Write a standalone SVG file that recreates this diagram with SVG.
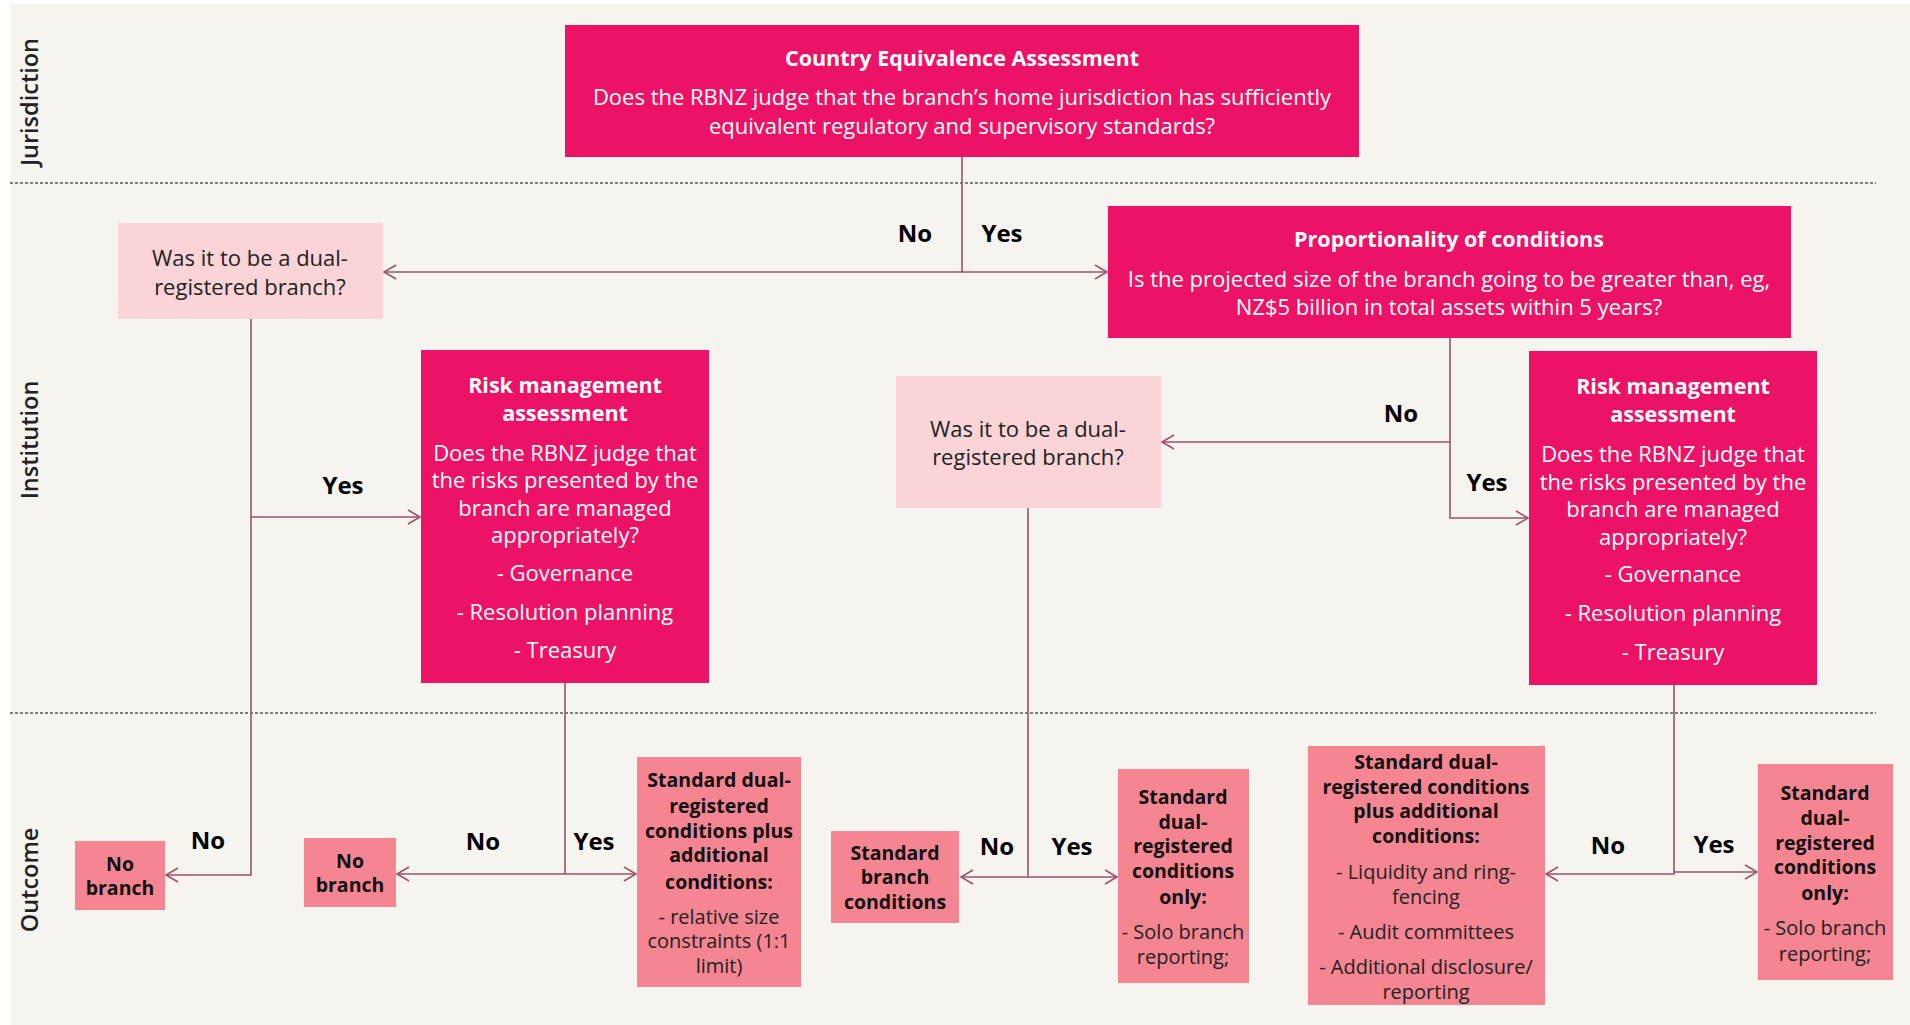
<svg xmlns="http://www.w3.org/2000/svg" width="1910" height="1025" viewBox="0 0 1910 1025">
<style>
text{font-family:"Open Sans","Noto Sans","DejaVu Sans",sans-serif;text-anchor:middle}
.mag{fill:#EC1265}
.pale{fill:#FAD4D6}
.sal{fill:#F48591}
.tw{fill:#ffffff;font-size:22px}
.twb{fill:#ffffff;font-size:21.5px;font-weight:700}
.td{fill:#222222;font-size:22px}
.ob{fill:#111111;font-size:19.5px;font-weight:700}
.or{fill:#222222;font-size:20px}
.lbl{fill:#000000;font-size:24px;font-weight:700}
.lane{fill:#222222;font-size:23.5px;font-weight:600}
.dash{stroke:#555555;stroke-width:1.5;stroke-dasharray:3 2;fill:none}
.arr{stroke:#A0506F;stroke-width:1.6;fill:none;marker-end:url(#ah)}
</style>
<defs>
<marker id="ah" markerUnits="userSpaceOnUse" markerWidth="16" markerHeight="18" refX="13" refY="8" orient="auto">
<path d="M1,1 L13,8 L1,15" fill="none" stroke="#A0506F" stroke-width="1.6"/>
</marker>
</defs>
<rect x="0" y="0" width="1910" height="1025" fill="#ffffff"/>
<rect x="10" y="4" width="1900" height="1021" fill="#F5F4EE"/>

<g id="lanes">
<line class="dash" x1="10" y1="183" x2="1876" y2="183"/>
<line class="dash" x1="10" y1="713" x2="1876" y2="713"/>
<text class="lane" transform="translate(38,102) rotate(-90)">Jurisdiction</text>
<text class="lane" transform="translate(38,440) rotate(-90)">Institution</text>
<text class="lane" transform="translate(38,880) rotate(-90)">Outcome</text>
</g>

<g id="connectors">
<path class="arr" d="M962,157 V272 H384"/>
<path class="arr" d="M962,272 H1107"/>
<path class="arr" d="M251,319 V875 H166"/>
<path class="arr" d="M251,517 H420"/>
<path class="arr" d="M565,683 V874 H397"/>
<path class="arr" d="M565,874 H636"/>
<path class="arr" d="M1450,338 V442 H1162"/>
<path class="arr" d="M1450,442 V518 H1528"/>
<path class="arr" d="M1028,508 V877 H961"/>
<path class="arr" d="M1028,877 H1117"/>
<path class="arr" d="M1674,685 V874 H1546"/>
<path class="arr" d="M1674,872 H1757"/>
<text class="lbl" x="915" y="242">No</text>
<text class="lbl" x="1002" y="242">Yes</text>
<text class="lbl" x="343" y="494">Yes</text>
<text class="lbl" x="208" y="849">No</text>
<text class="lbl" x="483" y="850">No</text>
<text class="lbl" x="594" y="850">Yes</text>
<text class="lbl" x="1401" y="422">No</text>
<text class="lbl" x="1487" y="491">Yes</text>
<text class="lbl" x="997" y="855">No</text>
<text class="lbl" x="1072" y="855">Yes</text>
<text class="lbl" x="1608" y="854">No</text>
<text class="lbl" x="1714" y="853">Yes</text>
</g>

<g id="country">
<rect class="mag" x="565" y="25" width="794" height="132"/>
<text class="twb" x="962" y="66">Country Equivalence Assessment</text>
<text class="tw" x="962" y="105">Does the RBNZ judge that the branch’s home jurisdiction has sufficiently</text>
<text class="tw" x="962" y="134">equivalent regulatory and supervisory standards?</text>
</g>

<g id="dual1">
<rect class="pale" x="118" y="223" width="265" height="96"/>
<text class="td" x="250" y="266">Was it to be a dual-</text>
<text class="td" x="250" y="295">registered branch?</text>
</g>

<g id="proportionality">
<rect class="mag" x="1108" y="206" width="683" height="132"/>
<text class="twb" x="1449" y="247">Proportionality of conditions</text>
<text class="tw" x="1449" y="287">Is the projected size of the branch going to be greater than, eg,</text>
<text class="tw" x="1449" y="315">NZ$5 billion in total assets within 5 years?</text>
</g>

<g id="risk1">
<rect class="mag" x="421" y="350" width="288" height="333"/>
<text class="twb" x="565" y="393">Risk management</text>
<text class="twb" x="565" y="421">assessment</text>
<text class="tw" x="565" y="461">Does the RBNZ judge that</text>
<text class="tw" x="565" y="488">the risks presented by the</text>
<text class="tw" x="565" y="516">branch are managed</text>
<text class="tw" x="565" y="543">appropriately?</text>
<text class="tw" x="565" y="581">- Governance</text>
<text class="tw" x="565" y="620">- Resolution planning</text>
<text class="tw" x="565" y="658">- Treasury</text>
</g>

<g id="dual2">
<rect class="pale" x="896" y="376" width="265" height="132"/>
<text class="td" x="1028" y="437">Was it to be a dual-</text>
<text class="td" x="1028" y="465">registered branch?</text>
</g>

<g id="risk2">
<rect class="mag" x="1529" y="351" width="288" height="334"/>
<text class="twb" x="1673" y="394">Risk management</text>
<text class="twb" x="1673" y="422">assessment</text>
<text class="tw" x="1673" y="462">Does the RBNZ judge that</text>
<text class="tw" x="1673" y="490">the risks presented by the</text>
<text class="tw" x="1673" y="517">branch are managed</text>
<text class="tw" x="1673" y="545">appropriately?</text>
<text class="tw" x="1673" y="582">- Governance</text>
<text class="tw" x="1673" y="621">- Resolution planning</text>
<text class="tw" x="1673" y="660">- Treasury</text>
</g>

<g id="nobranch1">
<rect class="sal" x="75" y="841" width="90" height="69"/>
<text class="ob" x="120" y="871">No</text>
<text class="ob" x="120" y="895">branch</text>
</g>

<g id="nobranch2">
<rect class="sal" x="304" y="838" width="92" height="69"/>
<text class="ob" x="350" y="868">No</text>
<text class="ob" x="350" y="892">branch</text>
</g>

<g id="stddualplus1">
<rect class="sal" x="637" y="757" width="164" height="230"/>
<text class="ob" x="719" y="787">Standard dual-</text>
<text class="ob" x="719" y="813">registered</text>
<text class="ob" x="719" y="838">conditions plus</text>
<text class="ob" x="719" y="862">additional</text>
<text class="ob" x="719" y="889">conditions:</text>
<text class="or" x="719" y="924">- relative size</text>
<text class="or" x="719" y="948">constraints (1:1</text>
<text class="or" x="719" y="973">limit)</text>
</g>

<g id="stdbranch">
<rect class="sal" x="831" y="831" width="128" height="92"/>
<text class="ob" x="895" y="860">Standard</text>
<text class="ob" x="895" y="884">branch</text>
<text class="ob" x="895" y="909">conditions</text>
</g>

<g id="stddualonly1">
<rect class="sal" x="1118" y="769" width="131" height="214"/>
<text class="ob" x="1183" y="804">Standard</text>
<text class="ob" x="1183" y="829">dual-</text>
<text class="ob" x="1183" y="853">registered</text>
<text class="ob" x="1183" y="878">conditions</text>
<text class="ob" x="1183" y="904">only:</text>
<text class="or" x="1183" y="939">- Solo branch</text>
<text class="or" x="1183" y="964">reporting;</text>
</g>

<g id="stddualplus2">
<rect class="sal" x="1308" y="746" width="237" height="259"/>
<text class="ob" x="1426" y="769">Standard dual-</text>
<text class="ob" x="1426" y="794">registered conditions</text>
<text class="ob" x="1426" y="818">plus additional</text>
<text class="ob" x="1426" y="843">conditions:</text>
<text class="or" x="1426" y="879">- Liquidity and ring-</text>
<text class="or" x="1426" y="904">fencing</text>
<text class="or" x="1426" y="939">- Audit committees</text>
<text class="or" x="1426" y="974">- Additional disclosure/</text>
<text class="or" x="1426" y="999">reporting</text>
</g>

<g id="stddualonly2">
<rect class="sal" x="1758" y="764" width="135" height="216"/>
<text class="ob" x="1825" y="800">Standard</text>
<text class="ob" x="1825" y="825">dual-</text>
<text class="ob" x="1825" y="850">registered</text>
<text class="ob" x="1825" y="874">conditions</text>
<text class="ob" x="1825" y="900">only:</text>
<text class="or" x="1825" y="935">- Solo branch</text>
<text class="or" x="1825" y="961">reporting;</text>
</g>
</svg>
